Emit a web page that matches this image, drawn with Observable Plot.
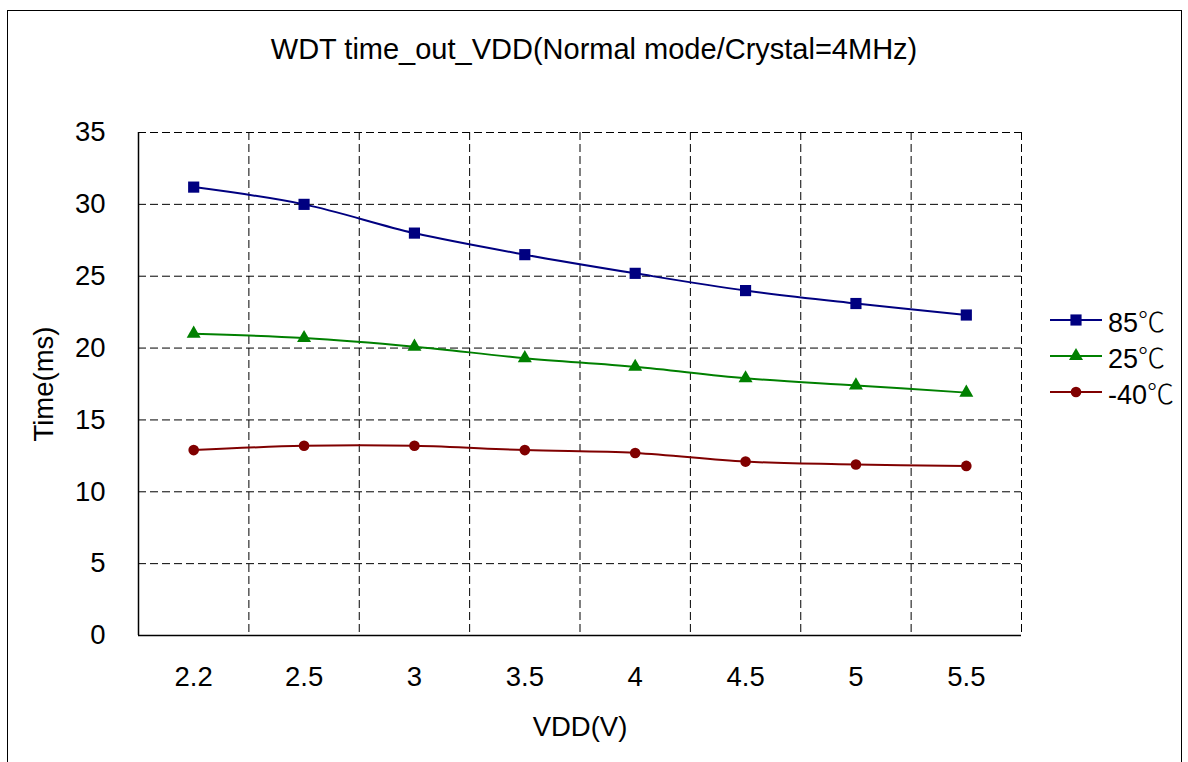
<!DOCTYPE html>
<html><head><meta charset="utf-8">
<script src="https://cdn.jsdelivr.net/npm/d3@7"></script>
<script src="https://cdn.jsdelivr.net/npm/@observablehq/plot@0.6"></script>
<style>
body{margin:0;background:#fff;font-family:"Liberation Sans",Arial,sans-serif;}
#wrap{position:relative;width:1188px;height:762px;overflow:hidden;background:#fff;}
#frame{position:absolute;left:7px;top:10px;width:1173px;height:800px;border:1px solid #000;pointer-events:none;}
#title{position:absolute;top:33px;left:0;width:1188px;text-align:center;font-size:29px;color:#000;}
#chart{position:absolute;left:0;top:0;}
.lg{position:absolute;left:1050px;display:flex;align-items:center;font-size:27px;height:36px;}
.lg svg{margin-right:6px;}
.deg{font-family:"Noto Sans CJK SC","DejaVu Sans",sans-serif;font-weight:300;}
</style></head><body>
<div id="wrap">
  <div id="chart"></div>
  <div id="title">WDT time_out_VDD(Normal mode/Crystal=4MHz)</div>
  <div id="legend"></div>
  <div id="frame"></div>
</div>
<script>
const categories = ["2.2","2.5","3","3.5","4","4.5","5","5.5"];
const t85  = [31.2, 30.0, 28.0, 26.5, 25.2, 24.0, 23.1, 22.3];
const t25  = [21.0, 20.7, 20.1, 19.3, 18.7, 17.9, 17.4, 16.9];
const tm40 = [12.9, 13.2, 13.2, 12.9, 12.7, 12.1, 11.9, 11.8];
const yTicks = [0, 5, 10, 15, 20, 25, 30, 35];
const seriesNames = ["85℃", "25℃", "-40℃"];
const seriesColors = ["#000080", "#008000", "#800000"];
const seriesSymbols = ["square", "triangle", "circle"];
const seriesR = [6.3, 5.2, 5.3];
const seriesValues = [t85, t25, tm40];

const rows = [];
seriesValues.forEach((vals, s) => vals.forEach((v, i) => rows.push({i, cat: categories[i], value: v, s})));
const idx = d3.range(categories.length);
const bounds = d3.range(categories.length).map(i => i + 0.5);

const marks = [
  Plot.ruleY(yTicks.filter(t => t > 0), {stroke: "#000", strokeWidth: 1, strokeDasharray: "8,4"}),
  Plot.ruleX(bounds, {stroke: "#000", strokeWidth: 1, strokeDasharray: "8,4"}),
  Plot.ruleX([-0.5], {stroke: "#000", strokeWidth: 1.5}),
  Plot.ruleY([0], {stroke: "#000", strokeWidth: 1.5}),
];
seriesValues.forEach((vals, s) => {
  const data = rows.filter(d => d.s === s);
  marks.push(Plot.line(data, {x: "i", y: "value", stroke: seriesColors[s], strokeWidth: 2, curve: "catmull-rom"}));
  marks.push(Plot.dot(data, {x: "i", y: "value", fill: seriesColors[s], stroke: "none", symbol: seriesSymbols[s], r: seriesR[s]}));
});
marks.push(Plot.axisX(idx, {tickSize: 0, tickPadding: 31, tickFormat: i => categories[i], label: "VDD(V)", labelAnchor: "center", labelArrow: "none", labelOffset: 100}));
marks.push(Plot.axisY(yTicks, {tickSize: 0, tickPadding: 33, label: "Time(ms)", labelAnchor: "center", labelArrow: "none", labelOffset: 105}));

const chart = Plot.plot({
  width: 1188, height: 762,
  marginLeft: 138, marginRight: 167, marginTop: 132, marginBottom: 127,
  x: {type: "linear", domain: [-0.5, 7.5]},
  y: {type: "linear", domain: [0, 35]},
  style: {fontSize: "27.5px", fontFamily: "'Liberation Sans', Arial, sans-serif", color: "#000", background: "transparent", overflow: "visible"},
  marks
});
document.getElementById("chart").appendChild(chart);

const legend = document.getElementById("legend");
const tops = [302, 338, 374];
seriesNames.forEach((name, s) => {
  const row = document.createElement("div");
  row.className = "lg";
  row.style.top = tops[s] + "px";
  const svg = d3.create("svg").attr("width", 52).attr("height", 20);
  svg.append("line").attr("x1", 0).attr("x2", 52).attr("y1", 10).attr("y2", 10).attr("stroke", seriesColors[s]).attr("stroke-width", 2);
  const sym = {square: d3.symbolSquare, triangle: d3.symbolTriangle, circle: d3.symbolCircle}[seriesSymbols[s]];
  svg.append("path").attr("d", d3.symbol(sym, Math.PI * seriesR[s] * seriesR[s])()).attr("transform", "translate(26,10)").attr("fill", seriesColors[s]);
  row.appendChild(svg.node());
  const span = document.createElement("span");
  const num = name.replace("℃", "");
  span.innerHTML = num + '<span class="deg">℃</span>';
  row.appendChild(span);
  legend.appendChild(row);
});
</script>
</body></html>
